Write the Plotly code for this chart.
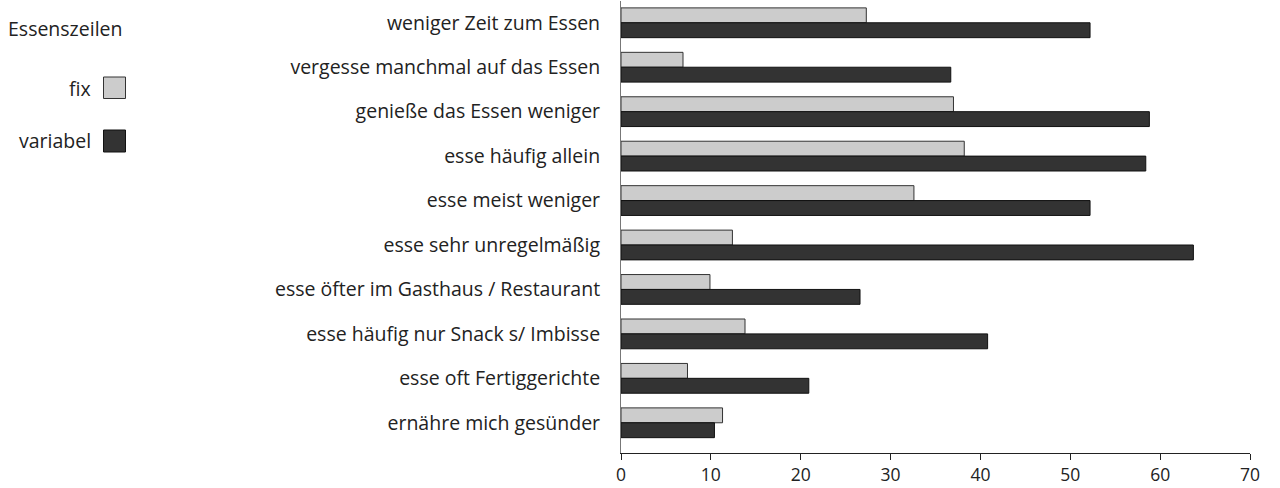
import plotly.graph_objects as go

categories = [
    "weniger Zeit zum Essen",
    "vergesse manchmal auf das Essen",
    "genieße das Essen weniger",
    "esse häufig allein",
    "esse meist weniger",
    "esse sehr unregelmäßig",
    "esse öfter im Gasthaus / Restaurant",
    "esse häufig nur Snack s/ Imbisse",
    "esse oft Fertiggerichte",
    "ernähre mich gesünder",
]
fix_values = [27.3, 6.9, 37.0, 38.2, 32.6, 12.4, 9.9, 13.8, 7.4, 11.3]
variabel_values = [52.2, 36.7, 58.8, 58.4, 52.2, 63.7, 26.6, 40.8, 20.9, 10.4]
x_ticks = [0, 10, 20, 30, 40, 50, 60, 70]

FONT = "Open Sans"
FS = 19.5
TXT = "#222222"

W, H = 1280, 488
ml, mr, mt, mb = 621, 30, 1, 35
pw, ph = W - ml - mr, H - mt - mb


def px(x):
    return (x - ml) / pw


def py(y):
    return 1 - (y - mt) / ph


fig = go.Figure()
fig.add_trace(go.Bar(
    y=categories, x=fix_values, orientation="h", name="fix",
    marker=dict(color="#cccccc", line=dict(color="#333333", width=1)),
    showlegend=False, hoverinfo="skip",
))
fig.add_trace(go.Bar(
    y=categories, x=variabel_values, orientation="h", name="variabel",
    marker=dict(color="#333333", line=dict(color="#111111", width=1)),
    showlegend=False, hoverinfo="skip",
))

# custom legend (title, labels, swatches)
leg_font = dict(family=FONT, size=FS, color=TXT)
fig.add_annotation(x=px(6), y=py(28), xref="paper", yref="paper", text="Essenszeilen",
                   showarrow=False, xanchor="left", yanchor="middle", font=leg_font)
fig.add_annotation(x=px(93), y=py(88), xref="paper", yref="paper", text="fix",
                   showarrow=False, xanchor="right", yanchor="middle", font=leg_font)
fig.add_annotation(x=px(93), y=py(140), xref="paper", yref="paper", text="variabel",
                   showarrow=False, xanchor="right", yanchor="middle", font=leg_font)
fig.add_shape(type="rect", xref="paper", yref="paper",
              x0=px(103.5), x1=px(125.5), y0=py(98.5), y1=py(77),
              fillcolor="#cccccc", line=dict(color="#333333", width=1))
fig.add_shape(type="rect", xref="paper", yref="paper",
              x0=px(103.5), x1=px(125.5), y0=py(152), y1=py(130),
              fillcolor="#333333", line=dict(color="#111111", width=1))

fig.update_layout(
    width=W, height=H,
    margin=dict(l=ml, r=mr, t=mt, b=mb, autoexpand=False),
    plot_bgcolor="white", paper_bgcolor="white",
    barmode="group", bargap=0.33, bargroupgap=0,
    font=dict(family=FONT, size=FS, color=TXT),
    hovermode=False,
    xaxis=dict(range=[0, 70], tickvals=x_ticks, showgrid=False, zeroline=False,
               showline=True, linecolor="#222222", linewidth=1,
               ticks="outside", ticklen=6, tickcolor="#222222",
               tickfont=dict(family=FONT, size=17.5, color=TXT)),
    yaxis=dict(type="category", categoryorder="array", categoryarray=categories,
               range=[9.68, -0.49], showgrid=False, zeroline=False,
               showline=True, linecolor="#777777", linewidth=1,
               ticks="", ticklabelstandoff=16,
               tickfont=dict(family=FONT, size=FS, color=TXT)),
)

fig.write_html("out.html", config={"displayModeBar": False, "staticPlot": True},
               post_script="document.body.style.margin='0';")
